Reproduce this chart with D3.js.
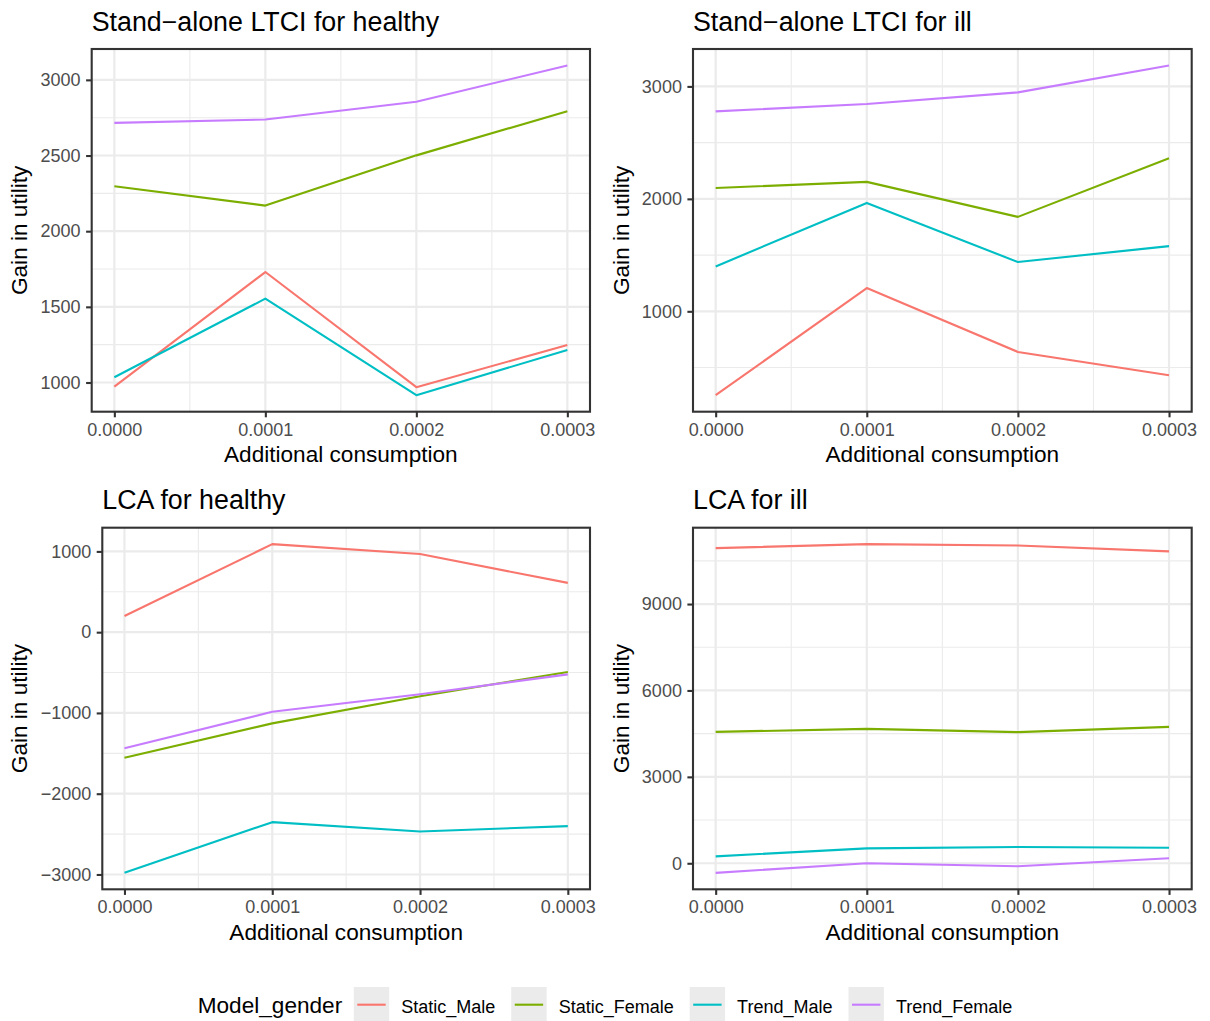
<!DOCTYPE html>
<html>
<head>
<meta charset="utf-8">
<script src="https://cdn.jsdelivr.net/npm/d3@7"></script>
<style>
  body { margin: 0; background: #ffffff; }
  svg { display: block; }
  text { font-family: "Liberation Sans", Arial, Helvetica, sans-serif; }
</style>
</head>
<body>
<svg id="chart" width="1210" height="1021"></svg>
<script>
// ---------------- DATA ----------------
const xValues = [0, 0.0001, 0.0002, 0.0003];
const xTicks = [0, 0.0001, 0.0002, 0.0003];
const seriesNames = ["Static_Male", "Static_Female", "Trend_Male", "Trend_Female"];
const seriesColors = ["#F8766D", "#7CAE00", "#00BFC4", "#C77CFF"];

const panelTitles = ["Stand\u2212alone LTCI for healthy", "Stand\u2212alone LTCI for ill", "LCA for healthy", "LCA for ill"];

// values per series, in seriesNames order
const ltciHealthy = [
  [973, 1730, 969, 1248],
  [2297, 2169, 2501, 2793],
  [1035, 1554, 916, 1215],
  [2716, 2738, 2855, 3095]
];
const ltciIll = [
  [254, 1207, 639, 432],
  [2097, 2151, 1840, 2361],
  [1399, 1964, 1438, 1580],
  [2778, 2843, 2947, 3186]
];
const lcaHealthy = [
  [200, 1090, 967, 610],
  [-1556, -1129, -793, -493],
  [-2980, -2352, -2467, -2401],
  [-1437, -986, -768, -522]
];
const lcaIll = [
  [10942, 11080, 11034, 10827],
  [4563, 4667, 4552, 4736],
  [241, 517, 563, 540],
  [-333, 0, -103, 172]
];

const ltciHealthyTicks = [1000, 1500, 2000, 2500, 3000];
const ltciIllTicks = [1000, 2000, 3000];
const lcaHealthyTicks = [-3000, -2000, -1000, 0, 1000];
const lcaIllTicks = [0, 3000, 6000, 9000];

const xAxisTitle = "Additional consumption";
const yAxisTitle = "Gain in utility";
const legendTitle = "Model_gender";

// ---------------- LAYOUT ----------------
const panels = [
  { title: panelTitles[0], data: ltciHealthy, ticks: ltciHealthyTicks, left: 91.7, right: 590, top: 49, bottom: 411.7, yTitleX: 27 },
  { title: panelTitles[1], data: ltciIll, ticks: ltciIllTicks, left: 693, right: 1191.7, top: 49, bottom: 411.7, yTitleX: 629 },
  { title: panelTitles[2], data: lcaHealthy, ticks: lcaHealthyTicks, left: 102.3, right: 590, top: 527.7, bottom: 889.3, yTitleX: 27 },
  { title: panelTitles[3], data: lcaIll, ticks: lcaIllTicks, left: 693, right: 1191.7, top: 527.7, bottom: 889.3, yTitleX: 629 }
];

const svg = d3.select("#chart");
svg.append("rect").attr("width", 1210).attr("height", 1021).attr("fill", "#ffffff");

function expand(ext) {
  const pad = (ext[1] - ext[0]) * 0.05;
  return [ext[0] - pad, ext[1] + pad];
}
function minorOf(ticks, dom) {
  const step = ticks[1] - ticks[0];
  const res = [];
  for (let i = -1; i < ticks.length; i++) {
    const v = ticks[0] + step * i + step / 2;
    if (v >= dom[0] && v <= dom[1]) res.push(v);
  }
  return res;
}

const gridMajor = "#EBEBEB";
const dark = "#333333";
const tickText = "#4D4D4D";

panels.forEach(p => {
  const g = svg.append("g");
  const xDom = expand(d3.extent(xValues));
  const allVals = p.data.flat();
  const yDom = expand(d3.extent(allVals));
  const x = d3.scaleLinear().domain(xDom).range([p.left, p.right]);
  const y = d3.scaleLinear().domain(yDom).range([p.bottom, p.top]);

  // minor grid
  const xMinor = minorOf(xTicks, xDom);
  const yMinor = minorOf(p.ticks, yDom);
  g.selectAll(null).data(yMinor).enter().append("line")
    .attr("x1", p.left).attr("x2", p.right)
    .attr("y1", d => y(d)).attr("y2", d => y(d))
    .attr("stroke", gridMajor).attr("stroke-width", 1.1);
  g.selectAll(null).data(xMinor).enter().append("line")
    .attr("y1", p.top).attr("y2", p.bottom)
    .attr("x1", d => x(d)).attr("x2", d => x(d))
    .attr("stroke", gridMajor).attr("stroke-width", 1.1);
  // major grid
  g.selectAll(null).data(p.ticks).enter().append("line")
    .attr("x1", p.left).attr("x2", p.right)
    .attr("y1", d => y(d)).attr("y2", d => y(d))
    .attr("stroke", gridMajor).attr("stroke-width", 2.2);
  g.selectAll(null).data(xTicks).enter().append("line")
    .attr("y1", p.top).attr("y2", p.bottom)
    .attr("x1", d => x(d)).attr("x2", d => x(d))
    .attr("stroke", gridMajor).attr("stroke-width", 2.2);

  // lines
  const line = d3.line().x((d, i) => x(xValues[i])).y(d => y(d));
  p.data.forEach((vals, si) => {
    g.append("path")
      .attr("d", line(vals))
      .attr("fill", "none")
      .attr("stroke", seriesColors[si])
      .attr("stroke-width", 2.1)
      .attr("stroke-linejoin", "round")
      .attr("stroke-linecap", "butt");
  });

  // border
  g.append("rect")
    .attr("x", p.left).attr("y", p.top)
    .attr("width", p.right - p.left).attr("height", p.bottom - p.top)
    .attr("fill", "none").attr("stroke", dark).attr("stroke-width", 2.1);

  // axes
  const yAxis = g.append("g").attr("transform", `translate(${p.left},0)`)
    .call(d3.axisLeft(y).tickValues(p.ticks).tickSize(5.6).tickPadding(5.5).tickFormat(d3.format("d")));
  const xAxis = g.append("g").attr("transform", `translate(0,${p.bottom})`)
    .call(d3.axisBottom(x).tickValues(xTicks).tickSize(5.6).tickPadding(5.5).tickFormat(d3.format(".4f")));
  [yAxis, xAxis].forEach(a => {
    a.select(".domain").remove();
    a.selectAll(".tick line").attr("stroke", dark).attr("stroke-width", 2.1);
    a.selectAll(".tick text").attr("fill", tickText).style("font-size", "18px")
      .style("font-family", '"Liberation Sans", Arial, Helvetica, sans-serif');
  });

  // titles
  g.append("text").attr("x", p.left).attr("y", p.top - 18.5)
    .attr("fill", "#000").style("font-size", "26.8px").text(p.title);
  g.append("text").attr("x", (p.left + p.right) / 2).attr("y", p.bottom + 50.5)
    .attr("text-anchor", "middle").attr("fill", "#000").style("font-size", "22.6px").text(xAxisTitle);
  g.append("text")
    .attr("transform", `translate(${p.yTitleX},${(p.top + p.bottom) / 2}) rotate(-90)`)
    .attr("text-anchor", "middle").attr("fill", "#000").style("font-size", "22.6px").text(yAxisTitle);
});

// ---------------- LEGEND ----------------
const legend = svg.append("g");
const keyW = 35.4, keyH = 35.4, keyTop = 987;
const baseline = 1012.6;
const lt = legend.append("text").attr("x", 0).attr("y", baseline + 0.5)
  .attr("fill", "#000").style("font-size", "22.6px").text(legendTitle);
let cx = lt.node().getComputedTextLength() + 11.6;
seriesNames.forEach((name, i) => {
  legend.append("rect").attr("x", cx).attr("y", keyTop).attr("width", keyW).attr("height", keyH)
    .attr("fill", "#EBEBEB");
  legend.append("line").attr("x1", cx + 3.5).attr("x2", cx + keyW - 3.5)
    .attr("y1", keyTop + keyH / 2).attr("y2", keyTop + keyH / 2)
    .attr("stroke", seriesColors[i]).attr("stroke-width", 2.1);
  cx += keyW + 12;
  const t = legend.append("text").attr("x", cx).attr("y", baseline)
    .attr("fill", "#000").style("font-size", "18px").text(name);
  cx += t.node().getComputedTextLength();
  if (i < seriesNames.length - 1) cx += 16;
});
legend.attr("transform", `translate(${605 - cx / 2},0)`);
</script>
</body>
</html>
